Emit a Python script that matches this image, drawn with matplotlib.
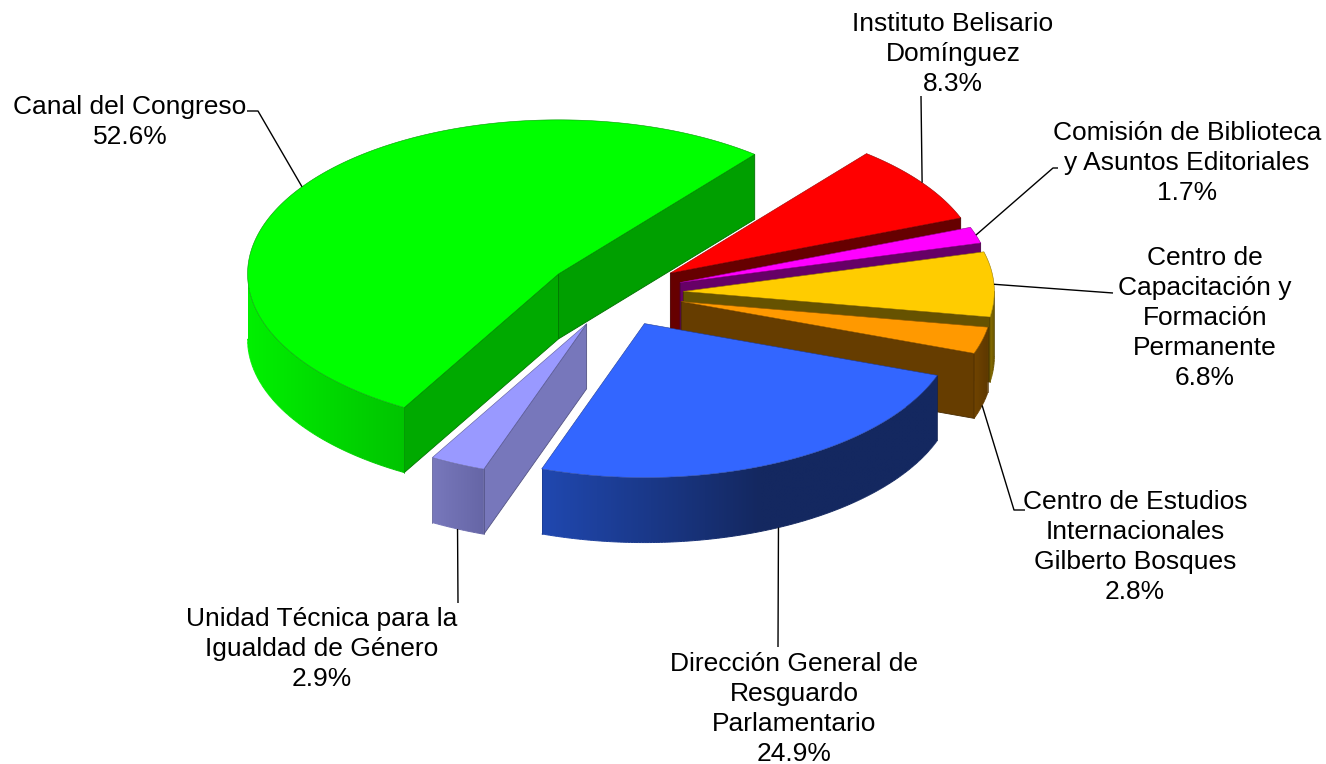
import numpy as np
import matplotlib
matplotlib.use('Agg')
import matplotlib.pyplot as plt
from matplotlib.collections import LineCollection
from matplotlib.colors import to_rgb
from matplotlib.patches import Polygon

plt.rcParams['font.family'] = ['Liberation Sans', 'DejaVu Sans']

names = ['Canal del Congreso',
         'Unidad Técnica para la\nIgualdad de Género',
         'Dirección General de\nResguardo\nParlamentario',
         'Centro de Estudios\nInternacionales\nGilberto Bosques',
         'Centro de\nCapacitación y\nFormación\nPermanente',
         'Comisión de Biblioteca\ny Asuntos Editoriales',
         'Instituto Belisario\nDomínguez']
values = [52.6, 2.9, 24.9, 2.8, 6.8, 1.7, 8.3]

top_colors = ['#00ff00', '#9999ff', '#3366ff', '#ff9900', '#ffcc00', '#ff00ff', '#ff0000']
start_wall = ['#009f00', '#7777bb', '#142860', '#663d00', '#665200', '#660066', '#660000']
end_wall = ['#00aa00', '#7777bb', '#142860', '#663d00', '#665200', '#660066', '#660000']
arc_from = ['#00f000', '#7878bc', '#2048b0', '#704400', '#8a7000', '#990099', '#990000']
arc_to = ['#00c400', '#6666a6', '#142860', '#5e3800', '#665200', '#660066', '#660000']
arc_stop = [1, 1, 0.55, 1, 1, 1, 1]
draw_order = [0, 6, 5, 4, 3, 1, 2]

# label centre, then the points the leader goes through on its way to the slice
label_xy = [(130, 122), (322, 649), (794, 709), (1135, 547), (1205, 318), (1187, 163), (953, 54)]
leader_pts = [[(247, 111), (258, 111)], [(458, 603)], [(778, 647)], [(1025, 510), (1014, 510)],
              [(1113, 293)], [(1058, 168), (1053, 168)], [(921, 96)]]

cx, cy = 615, 293
rx, ry = 311, 154
depth = 65
explode = 0.22
start_angle = 50.9


def rim(center, a):
    a = np.radians(a)
    return np.column_stack([center[0] + rx * np.cos(a), center[1] - ry * np.sin(a)])


fig = plt.figure(figsize=(13.26, 7.64), dpi=100)
ax = fig.add_axes([0, 0, 1, 1])

sweeps = np.array(values) / sum(values) * 360
starts = start_angle + np.concatenate([[0], np.cumsum(sweeps)[:-1]])
ends = starts + sweeps
mids = (starts + ends) / 2
centers = [(cx + explode * rx * np.cos(np.radians(m)), cy - explode * ry * np.sin(np.radians(m))) for m in mids]

z = 1


def flat_wall(c, angle, color):
    global z
    p = rim(c, np.array([angle]))[0]
    z += 1
    ax.add_patch(Polygon([c, p, (p[0], p[1] + depth), (c[0], c[1] + depth)], closed=True,
                         fc=color, ec=np.array(to_rgb(color)) * 0.7, lw=0.6, zorder=z))


for i in draw_order:
    c = centers[i]
    a0, a1 = starts[i], ends[i]
    # walls along the cut edges, only those turned to the viewer
    if np.cos(np.radians(a0)) > 0:
        flat_wall(c, a0, start_wall[i])
    if np.cos(np.radians(a1)) < 0:
        flat_wall(c, a1, end_wall[i])
    # outer wall, a horizontal gradient clipped to the wall shape
    lo = max(a0, 180)
    hi = min(a1, 360)
    if a0 % 360 > a1 % 360 and a0 < 360:
        hi = 360
    if hi > lo:
        pts = rim(c, np.linspace(lo, hi, max(int(hi - lo) * 2, 8)))
        outline = np.vstack([pts, (pts + (0, depth))[::-1]])
        x0, x1 = pts[:, 0].min(), pts[:, 0].max()
        y0, y1 = outline[:, 1].min(), outline[:, 1].max()
        t = np.clip(np.linspace(0, 1, 256) / arc_stop[i], 0, 1)[:, None]
        c0, c1 = np.array(to_rgb(arc_from[i])), np.array(to_rgb(arc_to[i]))
        z += 1
        im = ax.imshow((c0 + (c1 - c0) * t)[None, :, :], extent=(x0, x1, y1, y0), aspect='auto',
                       interpolation='bilinear', zorder=z)
        clip = Polygon(outline, closed=True, transform=ax.transData)
        im.set_clip_path(clip)
        # soften the clipped bottom edge with the same gradient
        z += 1
        bottom = pts + (0, depth)
        segs = np.stack([bottom[:-1], bottom[1:]], axis=1)
        seg_t = np.clip(((bottom[:-1, 0] + bottom[1:, 0]) / 2 - x0) / (x1 - x0) / arc_stop[i], 0, 1)[:, None]
        ax.add_collection(LineCollection(segs, colors=c0 + (c1 - c0) * seg_t, linewidths=0.7, zorder=z))
        if lo > 180:
            ax.plot(pts[[0, 0], 0], [pts[0, 1], pts[0, 1] + depth], color=c0 * 0.8, lw=0.5, zorder=z)
        ax.plot(pts[[-1, -1], 0], [pts[-1, 1], pts[-1, 1] + depth], color=c1 * 0.8, lw=0.5, zorder=z)
    # top of the slice
    arc = rim(c, np.linspace(a0, a1, max(int(sweeps[i]) * 2, 8)))
    z += 1
    ax.add_patch(Polygon(np.vstack([[c], arc]), closed=True, fc=top_colors[i],
                         ec=np.array(to_rgb(top_colors[i])) * 0.6, lw=0.4, zorder=z))

# leaders and labels
z += 1
for i in range(len(names)):
    a = mids[i]
    anchor = rim(centers[i], np.array([a]))[0]
    if np.sin(np.radians(a)) < 0 and i != 4:
        anchor = anchor + (0, depth)
    line = np.array(leader_pts[i] + [tuple(anchor)])
    ax.plot(line[:, 0], line[:, 1], color='black', lw=1.0, solid_capstyle='butt', zorder=z)
    ax.text(label_xy[i][0], label_xy[i][1], f'{names[i]}\n{values[i]:.1f}%', ha='center', va='center',
            fontsize=19, color='black', linespacing=1.31, zorder=z)

ax.set_xlim(0, 1326)
ax.set_ylim(764, 0)
ax.axis('off')
fig.savefig('out.png', dpi=100)
